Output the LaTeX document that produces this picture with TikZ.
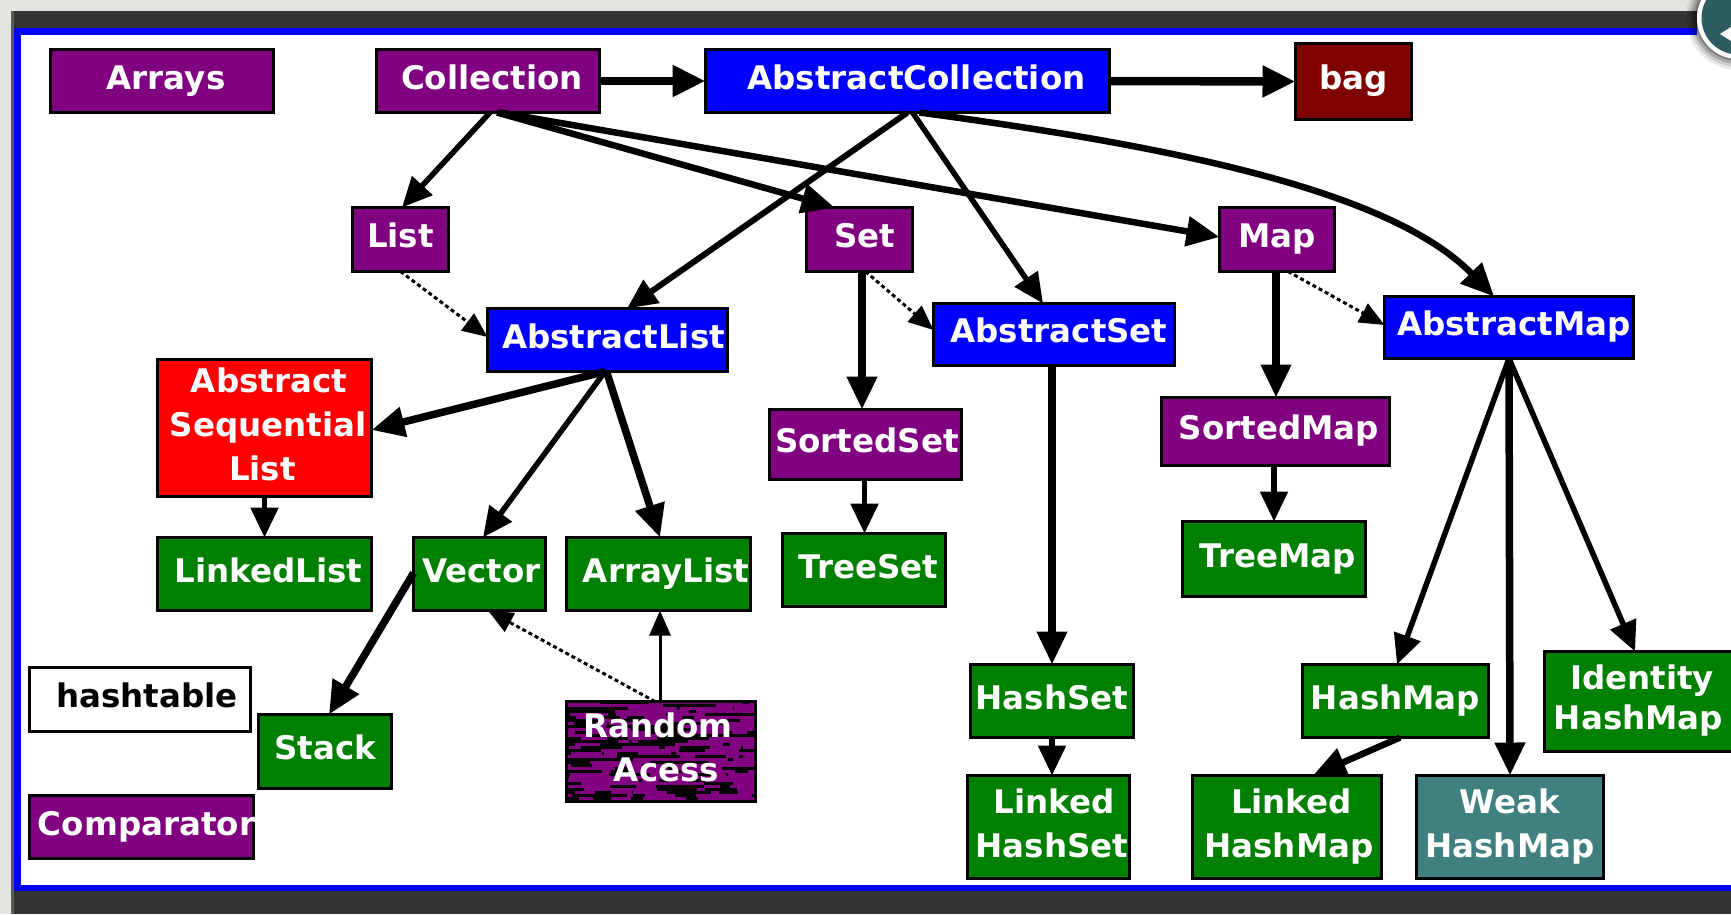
\documentclass[tikz,border=0pt]{standalone}
\usepackage{fontspec}
\newfontfamily\boxfont{DejaVu Sans}
\usetikzlibrary{arrows.meta}

\definecolor{jpurple}{HTML}{800080}
\definecolor{jblue}{HTML}{0000FF}
\definecolor{jgreen}{HTML}{008000}
\definecolor{jred}{HTML}{FF0000}
\definecolor{jmaroon}{HTML}{800000}
\definecolor{jteal}{HTML}{408080}
\definecolor{barcol}{HTML}{333333}
\definecolor{edgecol}{HTML}{5A5A5A}
\definecolor{papercol}{HTML}{E4E4DE}
\definecolor{iconcol}{HTML}{2E5C63}

% one-line label: optional horizontal nudge, fixed height/depth so the text sits a bit high
\newcommand\bt[2][4]{\raisebox{0pt}[24pt][8pt]{\makebox[0pt]{\hspace*{#1pt}\hspace*{#1pt}#2}}}
% multi-line label: nudge, reported height, lines
\newcommand\mt[3][0]{\raisebox{0pt}[#2pt][8pt]{\makebox[0pt]{\hspace*{#1pt}\hspace*{#1pt}\begin{tabular}[b]{@{}c@{}}#3\end{tabular}}}}

\begin{document}
\begin{tikzpicture}[x=1pt,y=-1pt,
  cls/.style={draw=black, line width=3pt, inner sep=0pt, outer sep=0pt, text=white,
    font=\boxfont\bfseries\fontsize{32.5pt}{44pt}\selectfont},
  sz/.style 2 args={minimum width=#1pt, minimum height=#2pt},
  heavyarr/.style={line width=8.5pt, -{Triangle[length=33pt,width=30pt]}},
  thickarr/.style={line width=7.5pt, -{Triangle[length=33pt,width=29pt]}},
  midarr/.style={line width=5.5pt, -{Triangle[length=30pt,width=27pt]}},
  thinarr/.style={line width=3pt, -{Triangle[length=25pt,width=21pt]}},
  dasharr/.style={thinarr, dash pattern=on 4pt off 3pt}]
\useasboundingbox (0,0) rectangle (1731,914);
\clip (0,0) rectangle (1731,914);

% window frame
\fill[papercol] (0,0) rectangle (1731,914);
\fill[edgecol] (11,11) rectangle (1731,914);
\fill[barcol] (14,11) rectangle (1731,914);
\fill[jblue] (14,28) rectangle (1731,891);
\fill[white] (21,35) rectangle (1731,885);
\fill[white] (1697,11) rectangle (1731,35);

% round button in the corner
\foreach \rr/\op in {52/0.08,49/0.12,46/0.18,43/0.25}
  \fill[black, opacity=\op] (1738,18) circle (\rr);
\fill[white] (1738,18) circle (41);
\fill[iconcol] (1738,18) circle (36.5);
\fill[white] (1720,34) -- (1731,27) -- (1731,41) -- cycle;

% first row
\node[cls, fill=jpurple, sz={223}{63}] (arrays) at (162,81) {\bt{Arrays}};
\node[cls, fill=jpurple, sz={223}{63}] (coll) at (488,81) {\bt{Collection}};
\node[cls, fill=jblue, sz={404}{63}] (acoll) at (907.5,81) {\bt[9]{AbstractCollection}};
\node[cls, fill=jmaroon, sz={116}{76}] (bag) at (1353.5,81.5) {\bt[0]{bag}};

% interfaces
\node[cls, fill=jpurple, sz={96}{64}] (list) at (400.5,239.5) {\bt[0]{List}};
\node[cls, fill=jpurple, sz={106}{64}] (set) at (859.5,239.5) {\bt[5]{Set}};
\node[cls, fill=jpurple, sz={115}{64}] (map) at (1277,239.5) {\bt[0]{Map}};

% abstract classes
\node[cls, fill=jblue, sz={240}{63}] (alist) at (607.5,340) {\bt[6]{AbstractList}};
\node[cls, fill=jblue, sz={241}{62}] (aset) at (1054,334.5) {\bt[5]{AbstractSet}};
\node[cls, fill=jblue, sz={249}{62}] (amap) at (1509,327.5) {\bt[5]{AbstractMap}};
\node[cls, fill=jred, sz={214}{137}] (asl) at (264.5,428)
  {\mt{112}{\hspace*{9pt}Abstract\\\hspace*{7pt}Sequential\\\hspace*{-4pt}List}};
\node[cls, fill=jpurple, sz={192}{70}] (sset) at (865.5,444.5) {\bt[1.5]{SortedSet}};
\node[cls, fill=jpurple, sz={228}{68}] (smap) at (1275.5,431.5) {\bt[3.5]{SortedMap}};

% concrete classes
\node[cls, fill=jgreen, sz={214}{73}] (llist) at (264.5,574) {\bt{LinkedList}};
\node[cls, fill=jgreen, sz={132}{73}] (vector) at (479.5,574) {\bt[2]{Vector}};
\node[cls, fill=jgreen, sz={184}{73}] (arrlist) at (658.5,574) {\bt[7.5]{ArrayList}};
\node[cls, fill=jgreen, sz={163}{73}] (tset) at (864,570) {\bt[4.5]{TreeSet}};
\node[cls, fill=jgreen, sz={183}{75}] (tmap) at (1274,559) {\bt{TreeMap}};
\node[cls, fill=white, text=black, sz={221}{64}] (htable) at (140,699.5) {\bt[7]{hashtable}};
\node[cls, fill=jgreen, sz={133}{74}] (stack) at (325,751.5) {\bt[0]{Stack}};
\node[cls, fill=jpurple, sz={224}{63}] (comp) at (141.5,827) {\bt[5]{Comparator}};

% speckled marker interface
\begin{scope}
  \clip (566,701) rectangle (756,802);
  \fill[black] (566,701) rectangle (756,802);
  \pgfmathsetseed{4711}
  \foreach \r in {0,...,33}{
    \foreach \k in {1,...,8}{
      \pgfmathsetmacro\segx{556+200*rnd}
      \pgfmathsetmacro\seglen{6+40*rnd}
      \fill[jpurple] (\segx,{701+3*\r}) rectangle ++(\seglen,3);
    }
  }
\end{scope}
\node[cls, sz={189}{100}] (racc) at (661,751.5)
  {\mt{68}{\hspace*{-6pt}Random\\\hspace*{11pt}Acess}};

\node[cls, fill=jgreen, sz={163}{73}] (hset) at (1052,701) {\bt[0]{HashSet}};
\node[cls, fill=jgreen, sz={162}{103}] (lhset) at (1048.5,827)
  {\mt{68}{\hspace*{12pt}Linked\\\hspace*{7pt}HashSet}};
\node[cls, fill=jgreen, sz={186}{73}] (hmap) at (1395.5,701) {\bt[0]{HashMap}};
\node[cls, fill=jgreen, sz={189}{103}] (lhmap) at (1287,827)
  {\mt{68}{\hspace*{9pt}Linked\\\hspace*{4pt}HashMap}};
\node[cls, fill=jteal, sz={187}{103}] (whmap) at (1510,827) {\mt{68}{Weak\\HashMap}};
\node[cls, fill=jgreen, sz={199}{100},
  font=\boxfont\bfseries\fontsize{32.5pt}{40pt}\selectfont] (ihmap) at (1644,701.5)
  {\mt{64}{\hspace*{-4pt}Identity\\\hspace*{-11pt}HashMap}};

% connectors
\draw[heavyarr] (coll.east) -- (acoll.west);
\draw[heavyarr] (acoll.east) -- (bag.west);
\draw[midarr] ([xshift=2pt]coll.south) -- ([xshift=1.5pt]list.north);
\draw[thickarr, line width=6.5pt] ([xshift=9pt]coll.south) -- ([xshift=-25pt]set.north);
\draw[thickarr, line width=6.5pt] ([xshift=12pt]coll.south) -- ([yshift=2.5pt]map.west);
\draw[midarr, line width=6pt] (acoll.south) -- ([xshift=19.5pt]alist.north);
\draw[midarr] ([xshift=5pt]acoll.south) -- ([xshift=-11pt]aset.north);
\draw[thickarr, line width=6.5pt] ([xshift=12pt]acoll.south)
  .. controls (1170,146) and (1390,190) .. ([xshift=-15pt]amap.north);
\draw[dasharr] (list.south) -- ([yshift=3pt]alist.west);
\draw[thickarr] ([xshift=2.5pt]set.south) -- ([xshift=-3.5pt]sset.north);
\draw[dasharr] ([xshift=6pt]set.south) -- ([yshift=4.5pt]aset.west);
\draw[thickarr] ([xshift=-1pt]map.south) -- ([xshift=0.5pt]smap.north);
\draw[dasharr] ([xshift=11pt]map.south) -- ([yshift=2.5pt]amap.west);
\draw[thickarr] ([xshift=-2pt]aset.south) -- (hset.north);
\draw[midarr] (amap.south) -- ([xshift=1.5pt]hmap.north);
\draw[thickarr] (amap.south) -- (whmap.north);
\draw[midarr] (amap.south) -- ([xshift=-9pt]ihmap.north);
\draw[midarr] (hset.south) -- ([xshift=3.5pt]lhset.north);
\draw[thickarr, line width=6.5pt] ([xshift=4.5pt]hmap.south) -- ([xshift=26pt]lhmap.north);
\draw[midarr] ([xshift=-1pt]sset.south) -- ([xshift=0.5pt]tset.north);
\draw[midarr] ([xshift=-1.5pt]smap.south) -- (tmap.north);
\draw[thickarr] ([xshift=-2.5pt]alist.south) -- ([yshift=-2pt]asl.east);
\draw[midarr] ([xshift=-2.5pt]alist.south) -- ([xshift=3.5pt]vector.north);
\draw[thickarr] ([xshift=-1pt]alist.south) -- ([xshift=1.5pt]arrlist.north);
\draw[midarr] (asl.south) -- (llist.north);
\draw[thickarr] ([yshift=1pt]vector.west) -- ([xshift=4pt]stack.north);
\draw[dasharr] ([xshift=-6pt]racc.north) -- ([xshift=8.5pt]vector.south);
\draw[thinarr] ([xshift=-1pt]racc.north) -- ([xshift=1.5pt]arrlist.south);
\end{tikzpicture}
\end{document}
